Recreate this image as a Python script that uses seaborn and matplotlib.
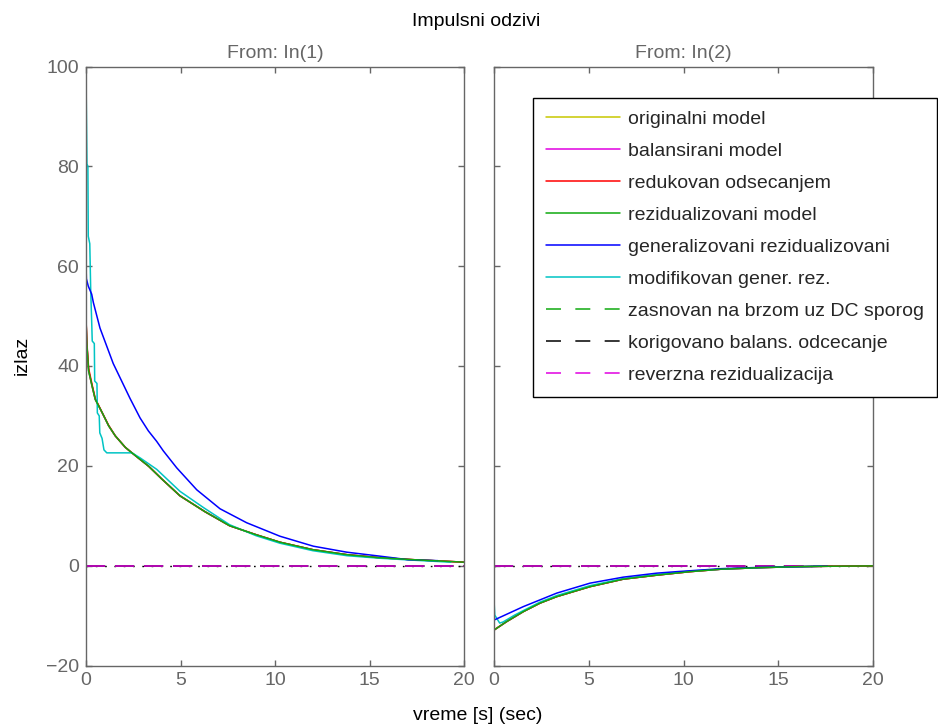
import numpy as np
import pandas as pd
import matplotlib
matplotlib.use("Agg")
import matplotlib.pyplot as plt
from matplotlib.lines import Line2D
import seaborn as sns

# ---------------- data ----------------
# From: In(1)
t1_res = [0, 0.03, 0.05, 0.14, 0.32, 0.49, 0.85, 1.2, 1.55, 2.08, 2.43, 3.32, 4.0, 4.97,
          6.3, 7.6, 9.0, 10.26, 12.0, 13.8, 15.5, 17.3, 20.0]
v1_res = [49.5, 46.0, 44.0, 39.0, 36.0, 33.3, 30.7, 28.0, 26.0, 23.7, 22.6, 19.9, 17.4, 14.0,
          10.8, 8.0, 6.2, 4.7, 3.2, 2.2, 1.6, 1.2, 0.7]
v1_trunc = [49.5, 46.5, 44.5, 39.5, 36.3, 33.5, 30.7, 28.1, 26.0, 23.7, 22.6, 19.9, 17.4, 14.0,
            10.8, 8.0, 6.2, 4.7, 3.2, 2.2, 1.6, 1.2, 0.7]

t1_gen = [0, 0.02, 0.12, 0.3, 0.39, 0.74, 1.44, 2.33, 2.86, 3.3, 3.74, 4.09, 4.8, 5.86,
          7.09, 8.5, 10.26, 12.03, 13.8, 15.56, 17.04, 18.62]
v1_gen = [60.4, 57.5, 56.0, 54.4, 52.7, 47.6, 40.5, 33.5, 29.6, 27.0, 24.9, 23.0, 19.6, 15.2,
          11.4, 8.6, 5.9, 3.9, 2.7, 1.9, 1.2, 1.0]

t1_mod = [0, 0.05, 0.1, 0.12, 0.2, 0.25, 0.3, 0.33, 0.44, 0.46, 0.58, 0.6, 0.7, 0.73, 0.85,
          0.95, 1.1, 2.43, 2.86, 3.74, 4.97, 6.23, 7.6, 9.0, 10.26, 12.0, 13.8, 15.5, 17.3, 19.3]
v1_mod = [98.3, 80.5, 80.0, 66.0, 64.5, 55.0, 49.0, 45.0, 44.5, 37.0, 36.5, 30.6, 30.0, 26.6,
          25.5, 23.2, 22.6, 22.6, 21.6, 19.3, 14.9, 11.6, 8.2, 6.0, 4.5, 3.0, 2.0, 1.5, 1.1, 0.7]

# From: In(2)
t2_res = [0, 0.67, 1.55, 2.43, 3.31, 5.07, 6.82, 8.59, 10.34, 12.0, 14.0, 16.0, 18.0, 20.0]
v2_res = [-12.9, -11.2, -9.2, -7.5, -6.2, -4.2, -2.7, -1.9, -1.2, -0.7, -0.4, -0.2, -0.1, -0.05]

t2_gen = [0, 1.55, 3.31, 5.07, 6.82, 8.59, 9.64, 12.0, 14.0, 16.0, 17.6]
v2_gen = [-10.9, -8.2, -5.5, -3.5, -2.3, -1.5, -1.2, -0.6, -0.35, -0.2, -0.1]

t2_mod = [0, 0.04, 0.3, 0.47, 1.09, 1.55, 2.43, 3.31, 5.07, 6.82, 8.59, 10.34, 12.0, 14.0, 17.3]
v2_mod = [-6.9, -9.9, -11.5, -11.3, -9.9, -9.0, -7.3, -6.0, -4.0, -2.6, -1.8, -1.1, -0.7, -0.4, -0.1]

t_flat = [0, 20]
v_flat = [0, 0]

labels = ["originalni model", "balansirani model", "redukovan odsecanjem",
          "rezidualizovani model", "generalizovani rezidualizovani",
          "modifikovan gener. rez.", "zasnovan na brzom uz DC sporog",
          "korigovano balans. odcecanje", "reverzna rezidualizacija"]
colors = ["#c8c800", "#e000e0", "#ff0000", "#10aa10", "#0000ff", "#00c4c4",
          "#10aa10", "#000000", "#e000e0"]

x_ticks = [0, 5, 10, 15, 20]
y_ticks = [-20, 0, 20, 40, 60, 80, 100]

# ---------------- style ----------------
sns.set_theme(style="white")
plt.rcParams["font.family"] = ["Liberation Sans", "DejaVu Sans"]
gray = "#666666"

fig = plt.figure(figsize=(9.38, 7.28), dpi=100)
W, H = 938, 728
ax1 = fig.add_axes([86 / W, 1 - 665.5 / H, (464 - 86) / W, (665.5 - 66.5) / H])
ax2 = fig.add_axes([494 / W, 1 - 665.5 / H, (873 - 494) / W, (665.5 - 66.5) / H])

lw = 1.1
plot_dash = (0, (12.5, 6.5))

panels = [
    (ax1, (t1_res, v1_res, v1_trunc), (t1_gen, v1_gen), (t1_mod, v1_mod)),
    (ax2, (t2_res, v2_res, v2_res), (t2_gen, v2_gen), (t2_mod, v2_mod)),
]

for ax, res, gen, mod in panels:
    tr, vr, vt = res
    # zero reference (dotted)
    sns.lineplot(x=t_flat, y=v_flat, ax=ax, color="black", linewidth=1.0,
                 linestyle=(0, (1.2, 5.5)), estimator=None, sort=False, legend=False)
    # dashed models at zero
    for c in [colors[6], colors[7], colors[8]]:
        sns.lineplot(x=t_flat, y=v_flat, ax=ax, color=c, linewidth=lw,
                     linestyle=plot_dash, estimator=None, sort=False, legend=False)
    sns.lineplot(x=tr, y=vr, ax=ax, color=colors[0], linewidth=lw, estimator=None, sort=False, legend=False)
    sns.lineplot(x=tr, y=vr, ax=ax, color=colors[1], linewidth=lw, estimator=None, sort=False, legend=False)
    sns.lineplot(x=tr, y=vt, ax=ax, color=colors[2], linewidth=lw, estimator=None, sort=False, legend=False)
    sns.lineplot(x=mod[0], y=mod[1], ax=ax, color=colors[5], linewidth=lw, estimator=None, sort=False, legend=False)
    sns.lineplot(x=gen[0], y=gen[1], ax=ax, color=colors[4], linewidth=lw, estimator=None, sort=False, legend=False)
    sns.lineplot(x=tr, y=vr, ax=ax, color=colors[3], linewidth=lw, estimator=None, sort=False, legend=False)

    ax.set_xlim(0, 20)
    ax.set_ylim(-20, 100)
    ax.set_xticks(x_ticks)
    ax.set_yticks(y_ticks)
    ax.set_xlabel("")
    ax.set_ylabel("")
    for sp in ax.spines.values():
        sp.set_visible(True)
        sp.set_color(gray)
        sp.set_linewidth(1.0)
    ax.tick_params(direction="in", length=4, width=1, color=gray, labelcolor=gray,
                   labelsize=14, top=True, right=True, bottom=True, left=True, pad=5)

ax2.tick_params(labelleft=False)
ax1.set_title("From: In(1)", color=gray, fontsize=14, pad=6)
ax2.set_title("From: In(2)", color=gray, fontsize=14, pad=6)

fig.text(476 / W, 1 - 22 / H, "Impulsni odzivi", ha="center", va="center", fontsize=14, color="black")
fig.text(22 / W, 1 - 355 / H, "izlaz", ha="center", va="center", rotation=90, fontsize=14, color="black")
fig.text(478 / W, 1 - 716 / H, "vreme [s] (sec)", ha="center", va="center", fontsize=14, color="black")

# legend
handles = []
for i, (lab, c) in enumerate(zip(labels, colors)):
    ls = "-" if i < 6 else (0, (9.8, 9.4))
    handles.append(Line2D([], [], color=c, linewidth=lw, linestyle=ls, label=lab))
leg = fig.legend(handles=handles, loc="upper left",
                 bbox_to_anchor=(533 / W, 1 - 98 / H), bbox_transform=fig.transFigure,
                 fontsize=14, frameon=True, fancybox=False, framealpha=1,
                 edgecolor="black", handlelength=3.8, handletextpad=0.45,
                 labelspacing=0.74, borderpad=0.65, borderaxespad=0)
leg.get_frame().set_linewidth(1.0)

fig.savefig("out.png", dpi=100)
